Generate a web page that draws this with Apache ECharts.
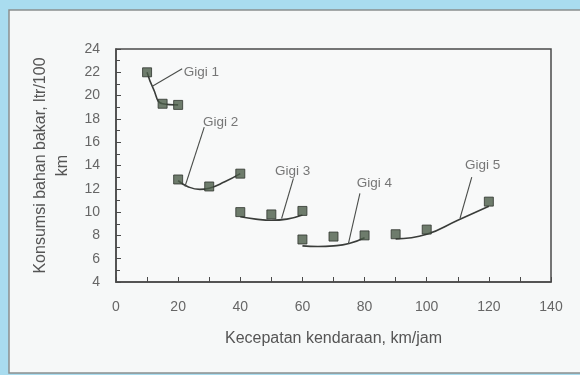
<!DOCTYPE html>
<html><head><meta charset="utf-8">
<script src="https://cdn.jsdelivr.net/npm/echarts@6/dist/echarts.min.js"></script>
<style>html,body{margin:0;padding:0;background:#a9dcef;}#c{width:580px;height:375px;}</style>
</head><body><div id="c"></div>
<script>
// measured points
const gigi1Speed = [10, 15, 20];
const gigi1Fuel = [22.0, 19.3, 19.2];
const gigi2Speed = [20, 30, 40];
const gigi2Fuel = [12.8, 12.2, 13.3];
const gigi3Speed = [40, 50, 60];
const gigi3Fuel = [10.0, 9.8, 10.1];
const gigi4Speed = [60, 70, 80];
const gigi4Fuel = [7.65, 7.9, 8.0];
const gigi5Speed = [90, 100, 120];
const gigi5Fuel = [8.1, 8.5, 10.9];
// fitted curves
const fit1Speed = [10, 12, 15, 20];
const fit1Fuel = [22.0, 20.6, 19.3, 19.2];
const fit2Speed = [20, 23, 27, 30, 35, 40];
const fit2Fuel = [12.7, 12.2, 11.95, 12.05, 12.6, 13.3];
const fit3Speed = [40, 45, 50, 55, 60];
const fit3Fuel = [9.6, 9.4, 9.3, 9.4, 9.75];
const fit4Speed = [60, 65, 70, 75, 80];
const fit4Fuel = [7.1, 7.05, 7.1, 7.3, 7.8];
const fit5Speed = [90, 100, 110, 120];
const fit5Fuel = [7.7, 8.1, 9.3, 10.5];
// annotation labels and leader lines
const gearNames = ['Gigi 1', 'Gigi 2', 'Gigi 3', 'Gigi 4', 'Gigi 5'];
const labelSpeed = [21.8, 28.0, 51.2, 77.5, 112.3];
const labelFuel = [22.0, 17.67, 13.47, 12.47, 14.04];
const leaderFromSpeed = [21.3, 28.4, 57.1, 78.5, 114.5];
const leaderFromFuel = [22.3, 17.3, 12.9, 11.6, 13.0];
const leaderToSpeed = [11.7, 22.2, 53.3, 74.8, 110.7];
const leaderToFuel = [20.8, 12.2, 9.45, 7.3, 9.45];
// axes
const xMin = 0, xMax = 140, xStep = 20;
const yMin = 4, yMax = 24, yStep = 2;
const xTitle = 'Kecepatan kendaraan, km/jam';
const yTitle = 'Konsumsi bahan bakar, ltr/100\nkm';

const zip = (a, b) => a.map((v, i) => [v, b[i]]);
const measured = [[gigi1Speed, gigi1Fuel], [gigi2Speed, gigi2Fuel], [gigi3Speed, gigi3Fuel], [gigi4Speed, gigi4Fuel], [gigi5Speed, gigi5Fuel]];
const fits = [[fit1Speed, fit1Fuel], [fit2Speed, fit2Fuel], [fit3Speed, fit3Fuel], [fit4Speed, fit4Fuel], [fit5Speed, fit5Fuel]];

const series = [];
fits.forEach(f => series.push({
  type: 'line', data: zip(f[0], f[1]), smooth: 0.5, showSymbol: false, symbol: 'none',
  lineStyle: { color: '#3a3d3a', width: 1.6 }, z: 2, silent: true
}));
gearNames.forEach((g, i) => series.push({
  type: 'line', data: [[leaderFromSpeed[i], leaderFromFuel[i]], [leaderToSpeed[i], leaderToFuel[i]]],
  showSymbol: false, symbol: 'none', lineStyle: { color: '#4a4d4a', width: 1.1 }, z: 2, silent: true
}));
measured.forEach(m => series.push({
  type: 'scatter', data: zip(m[0], m[1]), symbol: 'rect', symbolSize: 9,
  itemStyle: { color: '#4b5c48', borderColor: '#2f352e', borderWidth: 1 }, z: 4
}));
series.push({
  type: 'scatter', symbolSize: 0, z: 5,
  data: gearNames.map((g, i) => ({ name: g, value: [labelSpeed[i], labelFuel[i]] })),
  label: { show: true, position: 'inside', align: 'left', verticalAlign: 'middle', formatter: '{b}',
    color: '#555', fontSize: 13.5, fontFamily: 'Liberation Sans, Arial, sans-serif' }
});

const chart = echarts.init(document.getElementById('c'), null, { renderer: 'canvas' });
chart.setOption({
  animation: false,
  backgroundColor: 'transparent',
  graphic: [{ type: 'rect', z: -10, shape: { x: 9, y: 10, width: 600, height: 363 },
    style: { fill: '#f6f8f8', stroke: '#8a8e8e', lineWidth: 1.5 } }],
  grid: { left: 116, right: 29, top: 49, bottom: 93, show: true, backgroundColor: '#f8f9f9', borderColor: '#4a4a4a', borderWidth: 1.5 },
  xAxis: {
    type: 'value', min: xMin, max: xMax, interval: xStep,
    name: xTitle, nameLocation: 'middle', nameGap: 49,
    nameTextStyle: { color: '#555', fontSize: 16, fontFamily: 'Liberation Sans, Arial, sans-serif' },
    axisLine: { show: true, lineStyle: { color: '#4a4a4a', width: 1.5 } },
    axisTick: { show: true, inside: true, length: 5, lineStyle: { color: '#4a4a4a' } },
    minorTick: { show: true, splitNumber: 2, length: 5, lineStyle: { color: '#4a4a4a' } },
    splitLine: { show: false },
    axisLabel: { color: '#666', fontSize: 14, margin: 18, fontFamily: 'Liberation Sans, Arial, sans-serif' }
  },
  yAxis: {
    type: 'value', min: yMin, max: yMax, interval: yStep,
    name: yTitle, nameLocation: 'middle', nameGap: 37, nameRotate: 90,
    nameTextStyle: { color: '#555', fontSize: 16, lineHeight: 22, align: 'center', fontFamily: 'Liberation Sans, Arial, sans-serif' },
    axisLine: { show: true, lineStyle: { color: '#4a4a4a', width: 1.5 } },
    axisTick: { show: true, inside: true, length: 5, lineStyle: { color: '#4a4a4a' } },
    minorTick: { show: true, splitNumber: 2, length: 4, lineStyle: { color: '#4a4a4a' } },
    splitLine: { show: false },
    axisLabel: { color: '#666', fontSize: 14, margin: 16, fontFamily: 'Liberation Sans, Arial, sans-serif' }
  },
  series: series
});
</script></body></html>
